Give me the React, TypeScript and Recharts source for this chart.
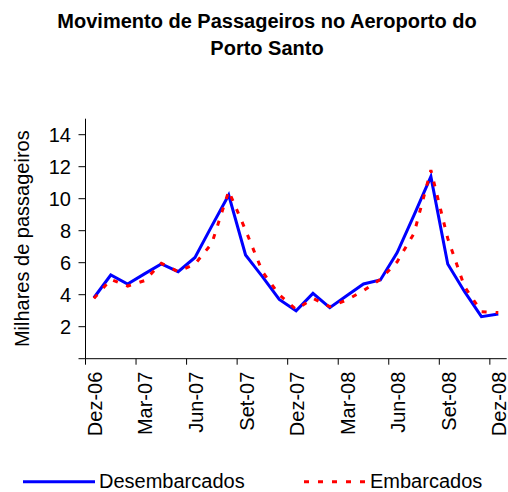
import { LineChart, Line, XAxis, YAxis, Legend } from "recharts"

const months = [
  "Dez-06", "Jan-07", "Fev-07", "Mar-07", "Abr-07", "Mai-07", "Jun-07", "Jul-07", "Ago-07",
  "Set-07", "Out-07", "Nov-07", "Dez-07", "Jan-08", "Fev-08", "Mar-08", "Abr-08", "Mai-08",
  "Jun-08", "Jul-08", "Ago-08", "Set-08", "Out-08", "Nov-08", "Dez-08",
]
const desembarcados = [
  3.81, 5.23, 4.67, 5.3, 5.92, 5.44, 6.33, 8.3, 10.23, 6.48, 5.13, 3.7, 3.0,
  4.08, 3.19, 3.94, 4.67, 4.92, 6.63, 8.98, 11.38, 5.92, 4.19, 2.63, 2.79,
]
const embarcados = [
  3.77, 4.96, 4.54, 4.88, 5.96, 5.44, 5.92, 7.21, 10.48, 8.04, 5.44, 4.0, 3.08,
  3.77, 3.25, 3.67, 4.25, 4.96, 6.06, 7.83, 11.79, 7.52, 4.5, 2.94, 2.88,
]
const yTicks = [0, 2, 4, 6, 8, 10, 12, 14]

const data = months.map((mes, i) => ({
  mes,
  desembarcados: desembarcados[i],
  embarcados: embarcados[i],
}))

const FONT = "'Liberation Sans', Arial, sans-serif"
const W = 508
const H = 492
const PLOT_LEFT = 85.5
const PLOT_RIGHT = 1.3
const BAND = (W - PLOT_LEFT - PLOT_RIGHT) / months.length

// excel style: labels centered on category, tick marks on the boundaries
function MonthTick(props: any) {
  const { x, y, payload } = props
  const bx = x - BAND / 2
  return (
    <g>
      <line x1={bx} x2={bx} y1={y - 13} y2={y - 7} stroke="#000" />
      <text
        x={x}
        y={y}
        dy={8}
        transform={`rotate(-90, ${x}, ${y})`}
        textAnchor="end"
        fontSize={20}
        fontFamily={FONT}
        fill="#000"
      >
        {payload.value}
      </text>
    </g>
  )
}

const legendSpots = [
  { x: 23, len: 72 },
  { x: 304, len: 62 },
]

function LegendBox({ payload }: any) {
  return (
    <svg width={W} height={26}>
      {(payload || []).map((p: any, i: number) => {
        const s = legendSpots[i]
        return (
          <g key={p.value}>
            <line
              x1={s.x}
              x2={s.x + s.len}
              y1={15.7}
              y2={15.7}
              stroke={p.color}
              strokeWidth={3}
              strokeDasharray={p.payload?.strokeDasharray}
            />
            <text x={s.x + s.len + 4} y={22} fontSize={20} fontFamily={FONT} fill="#000">
              {p.value}
            </text>
          </g>
        )
      })}
    </svg>
  )
}

export default function App() {
  return (
    <div style={{ position: "absolute", left: 0, top: 0, width: W, height: H, background: "#fff", fontFamily: FONT }}>
      <div
        style={{
          position: "absolute",
          left: 0,
          top: 8,
          width: 534,
          textAlign: "center",
          fontWeight: "bold",
          fontSize: 20,
          lineHeight: "27px",
          color: "#000",
        }}
      >
        Movimento de Passageiros no Aeroporto do
        <br />
        Porto Santo
      </div>
      <LineChart
        width={W}
        height={H}
        data={data}
        margin={{ top: 118.7, right: PLOT_RIGHT, left: 0, bottom: 0 }}
      >
        <XAxis
          dataKey="mes"
          scale="band"
          interval={2}
          height={133.3}
          tickSize={6}
          tickMargin={7}
          tickLine={{ stroke: "none" }}
          axisLine={{ stroke: "#000" }}
          tick={<MonthTick />}
        />
        <YAxis
          width={PLOT_LEFT}
          domain={[0, 15]}
          ticks={yTicks}
          interval={0}
          tickSize={7}
          tickMargin={7.5}
          axisLine={{ stroke: "#000" }}
          tickLine={{ stroke: "#000" }}
          tick={{ fontSize: 20, fontFamily: FONT, fill: "#000" }}
          tickFormatter={(v) => (v === 0 ? "" : String(v))}
          label={{
            content: ({ viewBox }: any) => (
              <text
                x={viewBox.x + 29.5}
                y={viewBox.y + viewBox.height / 2}
                transform={`rotate(-90, ${viewBox.x + 29.5}, ${viewBox.y + viewBox.height / 2})`}
                textAnchor="middle"
                fontSize={20}
                fontFamily={FONT}
                fill="#000"
              >
                Milhares de passageiros
              </text>
            ),
          }}
        />
        <Legend
          layout="horizontal"
          verticalAlign="middle"
          align="center"
          wrapperStyle={{ top: 466, left: 0, width: W, height: 26 }}
          content={<LegendBox />}
        />
        <Line
          dataKey="desembarcados"
          name="Desembarcados"
          stroke="#0000ff"
          strokeWidth={3}
          dot={false}
          activeDot={false}
          isAnimationActive={false}
        />
        <Line
          dataKey="embarcados"
          name="Embarcados"
          stroke="#ff0000"
          strokeWidth={3}
          strokeDasharray="5 9"
          dot={false}
          activeDot={false}
          isAnimationActive={false}
        />
      </LineChart>
    </div>
  )
}
